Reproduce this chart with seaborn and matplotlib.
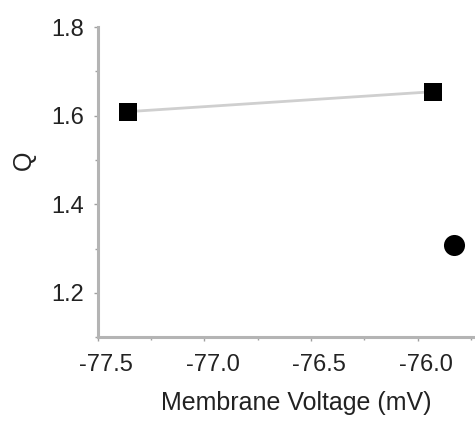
import numpy as np
import pandas as pd
import matplotlib
matplotlib.use("Agg")
import matplotlib.pyplot as plt
import matplotlib.transforms as mtransforms
from matplotlib.ticker import MultipleLocator
import seaborn as sns

# values
square_voltage = [-77.36, -75.93]
square_q = [1.609, 1.654]
circle_voltage = [-75.83]
circle_q = [1.308]

sns.set_style("ticks")
plt.rcParams["font.family"] = ["Liberation Sans", "DejaVu Sans"]
plt.rcParams["axes.unicode_minus"] = False

squares = pd.DataFrame({"voltage": square_voltage, "q": square_q})
circles = pd.DataFrame({"voltage": circle_voltage, "q": circle_q})

fig = plt.figure(figsize=(4.75, 4.23), dpi=100)
ax = fig.add_axes([0.206, 0.203, 0.79, 0.733])

sns.lineplot(data=squares, x="voltage", y="q", ax=ax, color="#cfcfcf", linewidth=2, zorder=1)
sns.scatterplot(data=squares, x="voltage", y="q", ax=ax, marker="s", s=175,
                color="black", edgecolor="black", linewidth=0, zorder=3)
sns.scatterplot(data=circles, x="voltage", y="q", ax=ax, marker="o", s=230,
                color="black", edgecolor="black", linewidth=0, zorder=3)

ax.set_xlim(-77.5, -75.74)
ax.set_ylim(1.1, 1.8)
ax.xaxis.set_major_locator(MultipleLocator(0.5))
ax.xaxis.set_minor_locator(MultipleLocator(0.25))
ax.yaxis.set_minor_locator(MultipleLocator(0.1))
ax.set_yticks([1.2, 1.4, 1.6, 1.8])
ax.set_yticklabels(["1.2", "1.4", "1.6", "1.8"])

sns.despine(ax=ax)
for side in ["left", "bottom"]:
    ax.spines[side].set_color("#b4b4b4")
    ax.spines[side].set_linewidth(2.2)
ax.tick_params(which="both", direction="out", color="#a0a0a0", width=1)
ax.tick_params(which="major", length=3, labelsize=17, labelcolor="#222222")
ax.tick_params(axis="x", which="major", pad=9)
ax.tick_params(axis="y", which="major", pad=7)
ax.tick_params(which="minor", length=2)

# the x labels sit a little right of their ticks in the original
shift = mtransforms.ScaledTranslation(8 / 100, 0, fig.dpi_scale_trans)
for lab in ax.get_xticklabels():
    lab.set_transform(lab.get_transform() + shift)

ax.set_xlabel("Membrane Voltage (mV)", fontsize=18, color="#222222")
ax.set_ylabel("Q", fontsize=18, color="#222222")
ax.xaxis.set_label_coords(0.528, -0.175)
ax.yaxis.set_label_coords(-0.165, 0.571)

fig.savefig("out.png", dpi=100)
